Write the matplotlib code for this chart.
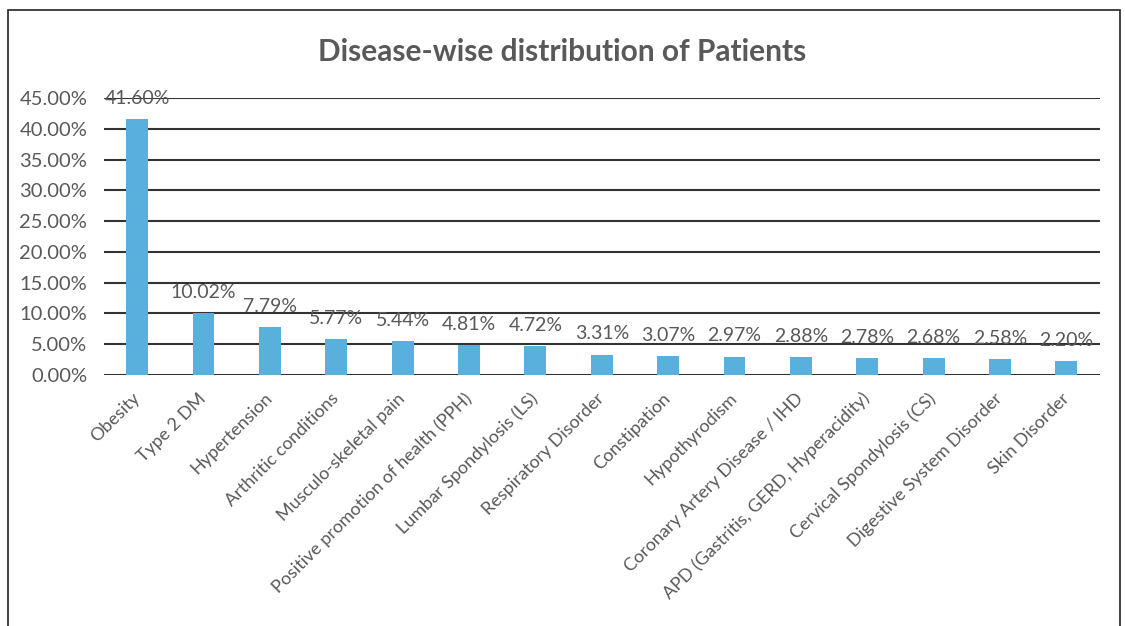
import matplotlib.pyplot as plt
from matplotlib.patches import Rectangle
from matplotlib.ticker import FuncFormatter

diseases = ["Obesity", "Type 2 DM", "Hypertension", "Arthritic conditions",
            "Musculo-skeletal pain", "Positive promotion of health (PPH)",
            "Lumbar Spondylosis (LS)", "Respiratory Disorder", "Constipation",
            "Hypothyrodism", "Coronary Artery Disease / IHD",
            "APD (Gastritis, GERD, Hyperacidity)", "Cervical Spondylosis (CS)",
            "Digestive System Disorder", "Skin Disorder"]
percent = [41.60, 10.02, 7.79, 5.77, 5.44, 4.81, 4.72, 3.31, 3.07,
           2.97, 2.88, 2.78, 2.68, 2.58, 2.20]

gray = "#595959"
plt.rcParams['font.family'] = ['Lato', 'DejaVu Sans']

fig = plt.figure(figsize=(11.25, 6.26), dpi=100)
fig.patches.append(Rectangle((8 / 1125, -0.05), 1112 / 1125, 1.05 - 10 / 626,
                             transform=fig.transFigure, fill=False,
                             edgecolor="#222222", linewidth=1.2))
ax = fig.add_axes([0.0924, 0.401, 0.885, 0.4425])

x = range(len(diseases))
ax.bar(x, percent, width=0.33, color="#5AB0DC", zorder=3)
for i, v in zip(x, percent):
    ax.annotate(f"{v:.2f}%", (i, v), xytext=(0, 15), textcoords="offset points",
                ha="center", va="center", fontsize=14, color=gray, zorder=4)

ax.set_ylim(0, 45)
ax.set_xlim(-0.5, len(diseases) - 0.5)
ax.set_yticks(range(0, 46, 5))
ax.yaxis.set_major_formatter(FuncFormatter(lambda v, p: f"{v:.2f}%"))
ax.grid(axis="y", color="#333333", linewidth=1.5, zorder=0)
for s in ax.spines.values():
    s.set_visible(False)
ax.tick_params(axis="y", length=0, labelsize=14.5, labelcolor=gray, pad=12)
ax.tick_params(axis="x", length=0, labelsize=13, labelcolor=gray, pad=15)
ax.set_xticks(list(x))
ax.set_xticklabels(diseases, rotation=45, ha="right", va="center",
                   rotation_mode="anchor")

fig.text(0.5, 0.917, "Disease-wise distribution of Patients", ha="center",
         va="center", fontsize=21.5, fontweight="bold", color=gray)

fig.savefig("out.png", dpi=100)
